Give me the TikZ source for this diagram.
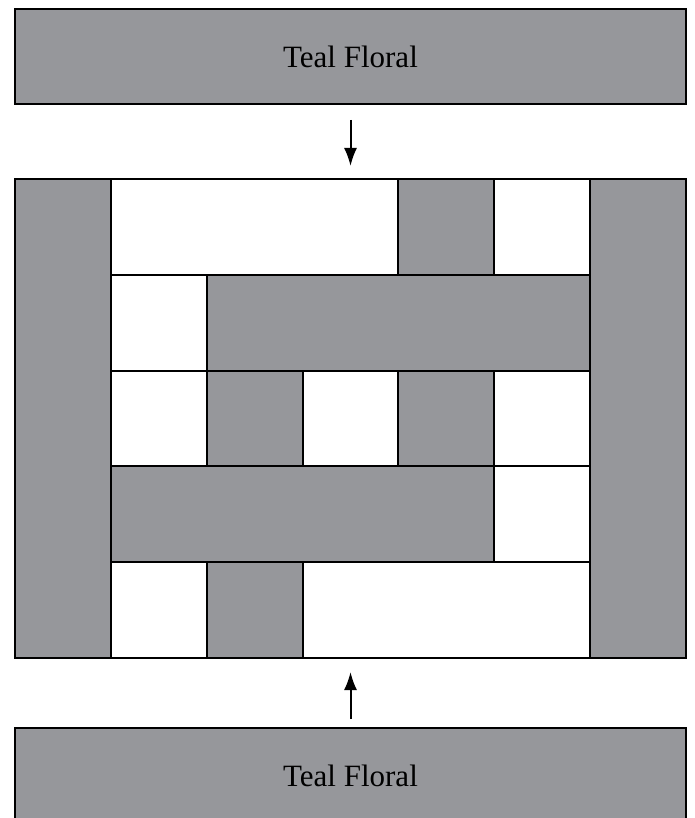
\documentclass[tikz,border=0pt]{standalone}
\usepackage{fontspec}
\setmainfont{Liberation Serif}
\usetikzlibrary{arrows.meta}

\definecolor{floralgray}{RGB}{150,151,155}

\tikzset{
	cell/.style={draw, line width=2pt, inner sep=0pt, outer sep=0pt, anchor=north west},
	gcell/.style={cell, fill=floralgray},
	wcell/.style={cell, fill=white},
	bar/.style={gcell, minimum width=671pt, minimum height=95pt, font=\fontsize{31}{37}\selectfont},
	arr/.style={line width=2pt, -{Latex[length=18pt,width=13pt]}}
}

\begin{document}
\begin{tikzpicture}[x=1pt,y=-1pt]

\clip (0,0) rectangle (694,818);

\def\cw{95.86}
\def\rh{95.8}

\begin{scope}
	\coordinate (g0) at (15,179);
	\coordinate (t0) at (15,9);
	\coordinate (b0) at (15,728);
\end{scope}

\node[bar] (top) at (t0) {Teal Floral};
\node[bar, minimum height=96pt] (bottom) at (b0) {Teal Floral};

\node[cell, minimum width=671pt, minimum height=479pt] (grid) at (g0) {};

% gray cells
\foreach \c/\r/\w/\h in {0/0/1/5, 6/0/1/5, 4/0/1/1, 2/1/4/1, 2/2/1/1, 4/2/1/1, 1/3/4/1, 2/4/1/1}
	\node[gcell, minimum width=\w*\cw, minimum height=\h*\rh] (g-\c-\r) at ({15+\c*\cw},{179+\r*\rh}) {};
% white cells
\foreach \c/\r/\w/\h in {1/0/3/1, 5/0/1/1, 1/1/1/1, 1/2/1/1, 3/2/1/1, 5/2/1/1, 5/3/1/1, 1/4/1/1, 3/4/3/1}
	\node[wcell, minimum width=\w*\cw, minimum height=\h*\rh] (w-\c-\r) at ({15+\c*\cw},{179+\r*\rh}) {};

\draw[arr, shorten <=16pt, shorten >=13pt] (top) -- (grid);
\draw[arr, shorten <=9pt, shorten >=14pt] (bottom) -- (grid);

\end{tikzpicture}
\end{document}
